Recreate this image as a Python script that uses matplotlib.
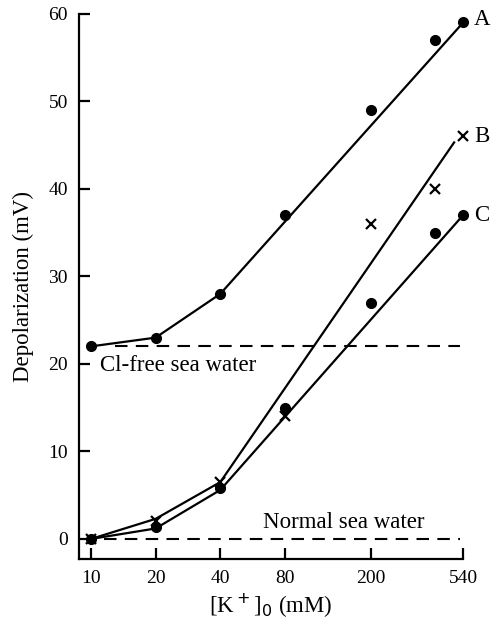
import matplotlib
matplotlib.use("Agg")
import matplotlib.pyplot as plt
from matplotlib.ticker import FixedLocator, NullLocator

plt.rcParams["font.family"] = ["Liberation Serif", "DejaVu Serif"]

# external K+ (mM) and depolarization (mV)
k_conc = [10, 20, 40, 80, 200, 400, 540]
dep_A = [22, 23, 28, 37, 49, 57, 59]       # Cl-free sea water
dep_B = [0, 2, 6.5, 14, 36, 40, 46]        # crosses
dep_C = [0, 1.4, 5.8, 15, 27, 35, 37]      # normal sea water, dots

# drawn lines (joined at low K, straight fit above 40 mM)
fit_A_k, fit_A_v = [10, 20, 40, 540], [22, 23, 28, 59]
fit_B_k, fit_B_v = [10, 20, 40, 490], [0, 2.3, 6.5, 45.3]
fit_C_k, fit_C_v = [10, 20, 40, 540], [0, 1.2, 5.6, 37]

x_ticks = [10, 20, 40, 80, 200, 540]
y_ticks = [0, 10, 20, 30, 40, 50, 60]
cl_free_level = 22
normal_level = 0

fig = plt.figure(figsize=(4.97, 6.24), dpi=100)
ax = fig.add_axes([0.159, 0.104, 0.773, 0.874])

lw = 1.6
ax.plot(fit_A_k, fit_A_v, color="black", lw=lw)
ax.plot(fit_B_k, fit_B_v, color="black", lw=lw)
ax.plot(fit_C_k, fit_C_v, color="black", lw=lw)

ax.plot(k_conc, dep_A, "o", color="black", ms=7, clip_on=False)
ax.plot(k_conc, dep_C, "o", color="black", ms=7, clip_on=False)
ax.plot(k_conc, dep_B, "x", color="black", ms=6.5, mew=1.6, clip_on=False)

ax.plot([13, 520], [cl_free_level] * 2, color="black", lw=1.5, dashes=(6, 4))
ax.plot([11.5, 520], [normal_level] * 2, color="black", lw=1.5, dashes=(6, 4))

fs = 14
fs_note = 16.5
ax.text(11.0, cl_free_level - 1.0, "Cl-free sea water", fontsize=fs_note, va="top")
ax.text(63, normal_level + 0.7, "Normal sea water", fontsize=fs_note, va="bottom")
ax.text(605, dep_A[-1] + 0.3, "A", fontsize=fs_note, va="center")
ax.text(605, dep_B[-1], "B", fontsize=fs_note, va="center")
ax.text(605, dep_C[-1], "C", fontsize=fs_note, va="center")

ax.set_xscale("log")
ax.set_xlim(8.8, 540)
ax.set_ylim(-2.3, 60)
ax.xaxis.set_major_locator(FixedLocator(x_ticks))
ax.xaxis.set_minor_locator(NullLocator())
ax.set_xticklabels([str(t) for t in x_ticks])
ax.set_yticks(y_ticks)

for side in ("top", "right"):
    ax.spines[side].set_visible(False)
for side in ("left", "bottom"):
    ax.spines[side].set_linewidth(1.6)
ax.tick_params(direction="in", length=8, width=1.6, labelsize=fs)
ax.tick_params(axis="y", pad=8)
ax.tick_params(axis="x", pad=8)

ax.set_ylabel("Depolarization (mV)", fontsize=fs_note, labelpad=10)
ax.set_xlabel("[K$^+$]$_0$ (mM)", fontsize=fs_note, labelpad=3)

fig.savefig("out.png", dpi=100)
